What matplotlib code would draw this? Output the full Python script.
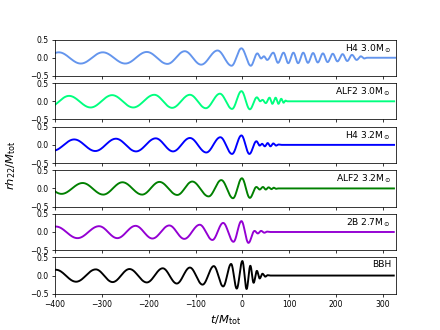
import numpy as np
import matplotlib
matplotlib.use('Agg')
import matplotlib.pyplot as plt

# extrema of each waveform (t/M_tot, r h22 / M_tot)
h4_30_t = [-438, -392, -345, -298, -250, -204, -160, -123, -88, -53, -23, -2, 18,
           32, 40, 46, 53, 66, 76, 88, 98, 109, 119, 130, 140, 151, 161, 172, 182,
           193, 203, 214, 224, 234, 244, 253, 260, 266, 330]
h4_30_h = [-0.15, 0.15, -0.16, 0.15, -0.16, 0.16, -0.17, 0.18, -0.19, 0.2, -0.22, 0.26, -0.22,
           0.12, -0.02, 0.04, -0.06, 0.14, -0.14, 0.14, -0.15, 0.14, -0.15, 0.14, -0.14,
           0.13, -0.13, 0.12, -0.12, 0.11, -0.1, 0.1, -0.09, 0.08, -0.06, 0.04, -0.02, 0, 0]

alf2_30_t = [-413, -370, -324, -278, -233, -188, -150, -112, -78, -48, -22, -2, 16,
             31, 38, 43, 50, 58, 64, 71, 77, 83, 88, 92, 96, 330]
alf2_30_h = [-0.16, 0.15, -0.17, 0.17, -0.17, 0.18, -0.18, 0.18, -0.19, 0.21, -0.21, 0.28, -0.22,
             0.11, 0.0, 0.04, -0.05, 0.1, -0.07, 0.1, -0.07, 0.07, -0.04, 0.02, 0, 0]

h4_32_t = [-404, -359, -314, -270, -227, -185, -148, -112, -77, -47, -22, -2, 15,
           30, 37, 42, 48, 54, 60, 66, 72, 77, 84, 330]
h4_32_h = [-0.16, 0.15, -0.17, 0.17, -0.18, 0.18, -0.18, 0.19, -0.21, 0.21, -0.25, 0.26, -0.25,
           0.1, -0.02, 0.03, -0.04, 0.05, -0.04, 0.04, -0.02, 0.01, 0, 0]

alf2_32_t = [-430, -386, -341, -297, -256, -214, -177, -139, -107, -72, -45, -20, -1, 16,
             30, 37, 44, 50, 56, 62, 67, 72, 77, 330]
alf2_32_h = [0.15, -0.15, 0.15, -0.17, 0.17, -0.17, 0.18, -0.18, 0.19, -0.22, 0.23, -0.27, 0.28, -0.26,
             0.04, -0.03, 0.04, -0.03, 0.03, -0.02, 0.02, -0.01, 0, 0]

b2_27_t = [-445, -398, -352, -306, -267, -228, -192, -156, -124, -91, -64, -41, -19, -2, 13,
           26, 33, 40, 47, 53, 60, 330]
b2_27_h = [-0.16, 0.15, -0.17, 0.16, -0.17, 0.17, -0.18, 0.18, -0.19, 0.2, -0.22, 0.25, -0.27, 0.3, -0.3,
           0.03, -0.04, 0.03, -0.02, 0.01, 0, 0]

bbh_t = [-445, -398, -355, -313, -277, -241, -204, -170, -140, -112, -85, -61, -41, -24, -12,
         0, 9, 17, 24, 31, 37, 43, 49, 54, 60, 330]
bbh_h = [-0.16, 0.16, -0.17, 0.17, -0.18, 0.18, -0.19, 0.2, -0.22, 0.22, -0.25, 0.26, -0.3, 0.32, -0.36,
         0.4, -0.37, 0.27, -0.2, 0.13, -0.08, 0.05, -0.03, 0.01, 0, 0]

labels = [r'H4 3.0M$_\odot$', r'ALF2 3.0M$_\odot$', r'H4 3.2M$_\odot$',
          r'ALF2 3.2M$_\odot$', r'2B 2.7M$_\odot$', 'BBH']
colors = ['cornflowerblue', 'springgreen', 'blue', 'green', 'darkviolet', 'black']
series = [(h4_30_t, h4_30_h), (alf2_30_t, alf2_30_h), (h4_32_t, h4_32_h),
          (alf2_32_t, alf2_32_h), (b2_27_t, b2_27_h), (bbh_t, bbh_h)]


def trace(te, he):
    # smooth half-cosine between successive extrema
    ts, hs = [], []
    for i in range(len(te) - 1):
        s = np.linspace(0, 1, 40, endpoint=False)
        ts.append(te[i] + (te[i + 1] - te[i]) * s)
        hs.append(he[i] + (he[i + 1] - he[i]) * (1 - np.cos(np.pi * s)) / 2)
    return np.concatenate(ts), np.concatenate(hs)


fig, axes = plt.subplots(6, 1, sharex=True, figsize=(6.4, 4.8))
for ax, (te, he), lab, c in zip(axes, series, labels, colors):
    t, h = trace(te, he)
    ax.plot(t, h, color=c, lw=2)
    ax.set_ylim(-0.5, 0.5)
    ax.set_yticks([-0.5, 0, 0.5])
    ax.tick_params(labelsize=8)
    ax.text(0.985, 0.93, lab, transform=ax.transAxes, ha='right', va='top', fontsize=9.5)
axes[-1].set_xlim(-400, 328)
axes[-1].set_xlabel(r'$t/M_{\rm tot}$', fontsize=12)
fig.text(0.025, 0.5, r'$rh_{22}/M_{\rm tot}$', rotation=90, va='center', ha='center', fontsize=12)

plt.savefig('out.png', dpi=68.75)
